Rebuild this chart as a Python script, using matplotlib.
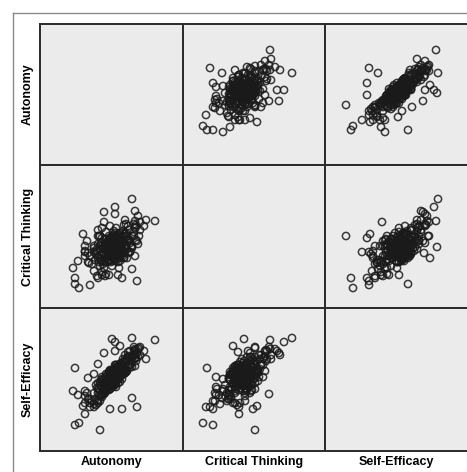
import matplotlib.pyplot as plt
from matplotlib.lines import Line2D

# scores of the three scales, one entry per respondent
variables = ['Autonomy', 'Critical Thinking', 'Self-Efficacy']

autonomy = [
    74, 70, 78, 66, 82, 72, 76, 68, 80, 62, 86, 74, 71, 77, 65, 83, 69, 75, 79, 63,
    88, 73, 67, 81, 70, 76, 84, 60, 78, 72, 66, 85, 74, 69, 80, 64, 77, 71, 87, 75,
    68, 82, 73, 61, 79, 90, 70, 76, 65, 83, 72, 58, 89, 74, 67, 80, 71, 78, 63, 85,
    75, 69, 81, 66, 92, 73, 77, 62, 84, 70, 79, 68, 86, 74, 60, 82, 71, 88, 76, 64,
    78, 72, 94, 67, 80, 73, 57, 85, 75, 69, 83, 70, 77, 65, 90, 74, 61, 79, 87, 68,
    76, 73, 96, 59, 82, 71, 66, 84, 78, 63, 74, 70, 91, 80, 67, 75, 86, 72, 64, 81,
    73, 77, 69, 81, 75, 71, 79, 66, 84, 72, 76, 70, 78, 74, 68, 82, 73, 77, 71, 75,
    55, 58, 52, 96, 94, 100, 62, 56, 88, 98, 54, 60, 84, 90, 66, 86, 50, 100, 76, 64,
    92, 58, 78, 70, 48, 56, 58, 54, 60, 62,
    69, 62, 57, 79, 72, 54, 49, 45, 45, 47, 59, 62, 74, 84, 85, 95, 97, 92, 95, 87,
    95, 90, 94, 96, 88, 98,
    60, 115, 92, 75, 72, 80, 64, 106, 39, 35, 35, 38, 33, 45, 97, 82, 50, 43, 70, 64,
    92, 78, 99, 104, 48, 54, 58, 45, 75, 95, 58, 65, 66, 62,
]
critical_thinking = [
    68, 48, 66, 69, 54, 62, 47, 53, 75, 52, 71, 54, 69, 61, 63, 52, 56, 75, 55, 44,
    69, 69, 46, 69, 54, 72, 50, 59, 54, 60, 49, 74, 49, 72, 61, 60, 68, 52, 59, 62,
    64, 72, 53, 65, 52, 68, 61, 56, 50, 68, 71, 52, 78, 61, 66, 58, 46, 68, 55, 72,
    48, 68, 64, 53, 72, 65, 52, 66, 75, 48, 65, 55, 63, 73, 50, 57, 63, 67, 53, 46,
    60, 47, 76, 59, 70, 52, 57, 55, 66, 56, 77, 66, 65, 68, 56, 57, 47, 50, 69, 47,
    70, 59, 81, 46, 66, 65, 59, 57, 74, 63, 51, 52, 61, 47, 62, 64, 75, 67, 59, 60,
    58, 64, 61, 57, 70, 55, 60, 64, 66, 63, 57, 59, 53, 67, 58, 61, 72, 56, 62, 62,
    48, 64, 44, 68, 84, 78, 70, 58, 82, 64, 62, 42, 50, 56, 76, 84, 52, 86, 80, 40,
    62, 72, 46, 82, 46, 54, 50, 56, 62, 48,
    33, 33, 32, 40, 42, 37, 45, 57, 62, 67, 72, 80, 77, 83, 88, 80, 67, 60, 52, 50,
    87, 65, 72, 83, 55, 92,
    72, 87, 109, 101, 61, 50, 96, 88, 20, 30, 24, 47, 40, 56, 27, 30, 23, 74, 70, 86,
    39, 33, 72, 82, 55, 60, 78, 52, 94, 97, 30, 32, 34, 36,
]
self_efficacy = [
    69, 77, 75, 61, 86, 78, 64, 71, 81, 71, 90, 69, 79, 71, 62, 82, 79, 70, 86, 58,
    92, 66, 72, 75, 68, 86, 77, 66, 82, 65, 62, 82, 76, 73, 86, 60, 76, 78, 92, 66,
    62, 78, 80, 69, 73, 94, 80, 68, 67, 86, 72, 58, 86, 81, 65, 69, 74, 84, 70, 89,
    77, 66, 88, 72, 94, 66, 84, 64, 78, 62, 83, 67, 79, 79, 68, 84, 68, 94, 70, 61,
    68, 76, 96, 76, 87, 64, 63, 78, 80, 61, 92, 81, 74, 60, 84, 76, 71, 83, 81, 71,
    84, 67, 93, 56, 72, 76, 77, 89, 78, 60, 74, 62, 90, 79, 72, 86, 79, 71, 68, 85,
    72, 80, 67, 78, 76, 74, 79, 70, 82, 75, 73, 66, 81, 79, 70, 80, 77, 74, 75, 72,
    52, 62, 50, 90, 100, 96, 72, 66, 95, 94, 58, 55, 80, 86, 74, 92, 48, 104, 86, 62,
    84, 68, 72, 80, 52, 46, 48, 44, 50, 54,
    64, 56, 50, 72, 66, 47, 52, 48, 55, 58, 62, 74, 82, 90, 96, 93, 98, 88, 85, 80,
    102, 100, 104, 101, 99, 102,
    21, 111, 113, 109, 112, 105, 98, 92, 28, 26, 83, 56, 60, 37, 44, 42, 44, 45, 42, 57,
    53, 74, 103, 100, 73, 77, 87, 60, 100, 96, 50, 58, 62, 56,
]

data = [autonomy, critical_thinking, self_efficacy]

W, H = 467, 472
fig = plt.figure(figsize=(W / 100, H / 100), dpi=100)
plt.rcParams['font.family'] = ['Liberation Sans', 'DejaVu Sans']

# panel grid in pixels
col_edges = [40, 183, 325, 468]
row_edges = [24, 165, 308, 451]

for i in range(3):
    for j in range(3):
        x0, x1 = col_edges[j], col_edges[j + 1]
        y0, y1 = row_edges[i], row_edges[i + 1]
        ax = fig.add_axes([x0 / W, 1 - y1 / H, (x1 - x0) / W, (y1 - y0) / H])
        ax.set_facecolor('#ebebeb')
        ax.set_xlim(0, x1 - x0)
        ax.set_ylim(0, y1 - y0)
        ax.set_xticks([])
        ax.set_yticks([])
        for sp in ax.spines.values():
            sp.set_linewidth(1.4)
            sp.set_color('#2a2a2a')
        if i != j:
            ax.scatter(data[j], data[i], s=27, facecolors='none',
                       edgecolors='#1a1a1a', linewidths=1.1, alpha=0.85)

# variable names
for k, name in enumerate(variables):
    xc = (col_edges[k] + min(col_edges[k + 1], 467)) / 2
    fig.text(xc / W, 1 - 462 / H, name, ha='center', va='center',
             fontsize=9, fontweight='bold')
    yc = (row_edges[k] + row_edges[k + 1]) / 2
    fig.text(28 / W, 1 - yc / H, name, ha='center', va='center',
             rotation=90, fontsize=9, fontweight='bold')

# outer grey frame
fig.add_artist(Line2D([13 / W, 13 / W], [1 - 13 / H, 0], color='#8a8a8a', lw=1.0))
fig.add_artist(Line2D([13 / W, 1], [1 - 13 / H, 1 - 13 / H], color='#8a8a8a', lw=1.0))

fig.savefig('out.png', dpi=100)
